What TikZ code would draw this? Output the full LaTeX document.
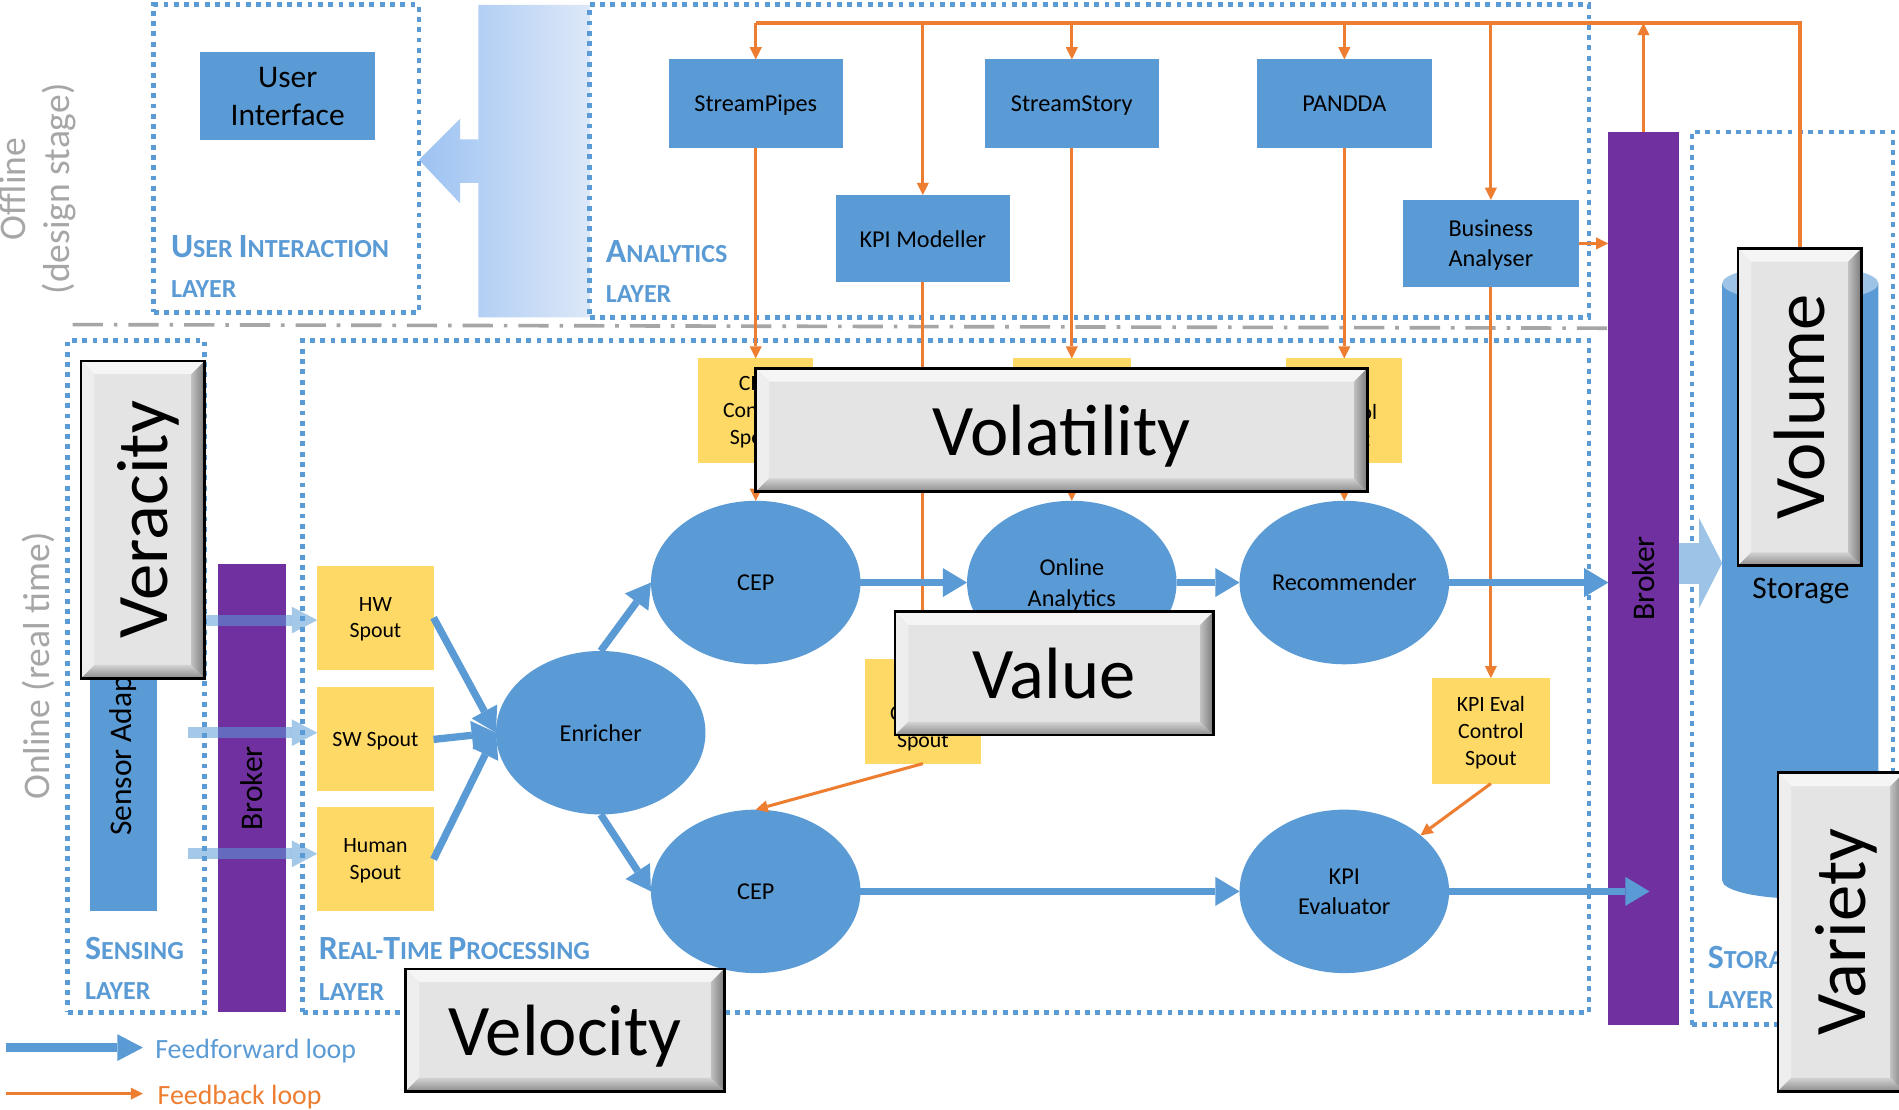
\documentclass[tikz,border=0pt]{standalone}
\usepackage{fontspec}
\setmainfont{Carlito}
\usepackage{graphicx}
\usetikzlibrary{arrows.meta,shapes.geometric,calc}
\pgfdeclarelayer{bg}
\pgfdeclarelayer{fg}
\pgfsetlayers{bg,main,fg}
\definecolor{myblue}{HTML}{5B9BD5}
\definecolor{mypurple}{HTML}{7030A0}
\definecolor{myyellow}{HTML}{FFD966}
\definecolor{myorange}{HTML}{ED7D31}
\definecolor{lightblue}{HTML}{9DC3E6}
\definecolor{mygray}{HTML}{A6A6A6}
\definecolor{bvface}{HTML}{E4E4E4}
\definecolor{bvtop}{HTML}{F5F5F5}
\definecolor{bvleft}{HTML}{EEEEEE}
\definecolor{bvbotA}{HTML}{D2D2D2}
\definecolor{bvbotB}{HTML}{8C8C8C}
\definecolor{bvrightA}{HTML}{C0C0C0}
\definecolor{bvrightB}{HTML}{7A7A7A}
\definecolor{gradL}{HTML}{9CC2F2}
\definecolor{gradR}{HTML}{DDE8F8}
\newcommand{\myfs}[1]{\fontsize{#1}{#1}\selectfont}
\newcommand{\capsA}[2]{{\myfs{28}#1}{\myfs{21.5}#2}}
\newcommand{\nodep}[1]{\raisebox{0pt}[\height][0pt]{#1}}
\begin{document}
\begin{tikzpicture}[x=1pt,y=-1pt,
  dotbox/.style={draw=myblue, line width=4pt, dash pattern=on 4pt off 4.5pt, inner sep=0pt, outer sep=0pt},
  abox/.style={fill=myblue, inner sep=0pt, outer sep=0pt, minimum width=144pt, minimum height=73pt, align=center, font=\fontsize{20}{25}\selectfont, text=black, text depth=0pt},
  spout/.style={fill=myyellow, inner sep=0pt, outer sep=0pt, minimum width=96pt, minimum height=86pt, align=center, font=\fontsize{18}{22}\selectfont, text=black, text depth=0pt},
  proc/.style={ellipse, fill=myblue, inner sep=0pt, outer sep=0pt, minimum width=173pt, minimum height=135pt, align=center, font=\fontsize{20}{25}\selectfont, text=black, text depth=0pt},
  brokerbox/.style={fill=mypurple, inner sep=0pt, outer sep=0pt, font=\myfs{26}, text=black},
  layerlbl/.style={anchor=base west, text=myblue, font=\bfseries\myfs{21.5}, inner sep=0pt},
  ff/.style={draw=myblue, line width=6pt, -{Triangle[length=20pt,width=24pt,line width=0pt]}},
  fb/.style={draw=myorange, line width=2.5pt},
  fba/.style={fb, -{Triangle[length=10pt,width=10pt,line width=0pt]}},
  sens/.style={draw=myblue, opacity=0.55, line width=9pt, -{Triangle[length=21pt,width=22pt,line width=0pt]}},
  bevelbox/.style={draw=black, line width=2.2pt, fill=bvface, inner sep=0pt, outer sep=0pt, text=black, font=\myfs{60}, text depth=0pt,
    path picture={
      \coordinate (bvNW) at (path picture bounding box.north west);
      \coordinate (bvNE) at (path picture bounding box.north east);
      \coordinate (bvSW) at (path picture bounding box.south west);
      \coordinate (bvSE) at (path picture bounding box.south east);
      \fill[bvtop] (bvNW) -- (bvNE) -- ([shift={(-11pt,-11pt)}]bvNE) -- ([shift={(11pt,-11pt)}]bvNW) -- cycle;
      \fill[bvleft] (bvNW) -- ([shift={(11pt,-11pt)}]bvNW) -- ([shift={(11pt,11pt)}]bvSW) -- (bvSW) -- cycle;
      \shade[top color=bvbotA, bottom color=bvbotB] (bvSW) -- ([shift={(11pt,11pt)}]bvSW) -- ([shift={(-11pt,11pt)}]bvSE) -- (bvSE) -- cycle;
      \shade[left color=bvrightA, right color=bvrightB] (bvSE) -- ([shift={(-11pt,11pt)}]bvSE) -- ([shift={(-11pt,-11pt)}]bvNE) -- (bvNE) -- cycle;
    }}
]
\useasboundingbox (0,0) rectangle (1568,916);

% ---------------- background layer ----------------
\begin{pgfonlayer}{bg}
\fill[white] (0,0) rectangle (1568,916);
\shade[left color=gradL, right color=gradR] (487,4) -- (395,4) -- (395,115) -- (380,115) -- (380,98) -- (346,132) -- (380,168) -- (380,151) -- (395,151) -- (395,262) -- (487,262) -- cycle;
\node[dotbox, minimum width=219pt, minimum height=254pt] (uil) at (236.5,131) {};
\node[dotbox, minimum width=825pt, minimum height=258pt] (anl) at (899.5,133) {};
\node[dotbox, minimum width=113pt, minimum height=555pt] (sensl) at (112.5,558.5) {};
\node[dotbox, minimum width=1062pt, minimum height=555pt] (rtl) at (781,558.5) {};
\node[dotbox, minimum width=166pt, minimum height=737pt] (storl) at (1480,477.5) {};
\coordinate (dl1) at (60,268);
\coordinate (dl2) at (1330,271);
\draw[draw=mygray, line width=3pt, dash pattern=on 25pt off 9pt on 3pt off 9pt] (dl1) -- (dl2);
\node[layerlbl] (uil1) at (141,213) {\capsA{U}{SER} \capsA{I}{NTERACTION}};
\node[layerlbl] (uil2) at (141,246) {LAYER};
\node[layerlbl] (anl1) at (500,217) {\capsA{A}{NALYTICS}};
\node[layerlbl] (anl2) at (500,250) {LAYER};
\node[layerlbl] (sen1) at (70,792) {\capsA{S}{ENSING}};
\node[layerlbl] (sen2) at (70,825) {LAYER};
\node[layerlbl] (rt1) at (263,792) {\capsA{R}{EAL}-\capsA{T}{IME} \capsA{P}{ROCESSING}};
\node[layerlbl] (rt2) at (263,826) {LAYER};
\node[layerlbl] (st1) at (1410,800) {\capsA{S}{TORAGE}};
\node[layerlbl] (st2) at (1410,833) {LAYER};
\node[rotate=90, align=center, text=mygray, font=\fontsize{31}{36}\selectfont] (offl) at (31,156) {Offline\\(design stage)};
\node[rotate=90, text=mygray, font=\myfs{31}] (onl) at (32,550) {Online (real time)};
\end{pgfonlayer}

% ---------------- foreground: the V boxes ----------------
\begin{pgfonlayer}{fg}
\node[bevelbox, minimum width=505pt, minimum height=102pt] (volat) at (876.5,355) {Volatility};
\node[bevelbox, minimum width=263pt, minimum height=102pt] (value) at (870.5,556) {Value};
\node[bevelbox, minimum width=263pt, minimum height=101pt] (veloc) at (466.5,850.5) {Velocity};
\node[bevelbox, minimum width=102pt, minimum height=262pt] (verac) at (118,429) {\rotatebox{90}{\nodep{Veracity}}};
\node[bevelbox, minimum width=102pt, minimum height=262pt] (vol) at (1486,336) {\rotatebox{90}{\nodep{Volume}}};
\node[bevelbox, minimum width=104pt, minimum height=263pt] (variety) at (1520,769.5) {\rotatebox{90}{\nodep{Variety}}};
\end{pgfonlayer}

% ---------------- main nodes ----------------
\node[abox, font=\fontsize{26}{32}\selectfont, minimum width=145pt] (ui) at (237.5,79.5) {User\\Interface};
\node[abox] (sp) at (624,85.5) {StreamPipes};
\node[abox] (ss) at (885,85.5) {StreamStory};
\node[abox] (pd) at (1110,85.5) {PANDDA};
\node[abox, minimum height=72pt] (kpim) at (762,197) {KPI Modeller};
\node[abox, minimum width=145pt, minimum height=72pt] (ba) at (1231,201) {Business\\Analyser};

\node[fill=myblue, inner sep=0pt, outer sep=0pt, minimum width=56pt, minimum height=286pt, font=\myfs{26}] (sensor) at (102,609) {\rotatebox{90}{Sensor Adapter}};
\node[brokerbox, minimum width=56pt, minimum height=370pt] (lbroker) at (208,651) {\rotatebox{90}{Broker}};
\node[brokerbox, minimum width=58pt, minimum height=737pt] (rbroker) at (1357,477.5) {\rotatebox{90}{Broker}};

\node[spout] (hw) at (310,510) {HW\\Spout};
\node[spout] (sw) at (310,610.5) {SW Spout};
\node[spout] (hu) at (310,709.5) {Human\\Spout};
\node[spout, minimum width=95pt] (cesp) at (624,339) {CEP\\Control\\Spout};
\node[spout, minimum width=97pt] (ossp) at (885,339) {};
\node[spout] (rsp) at (1110,339) {\strut\\Control\\Spout};
\node[spout] (lsp) at (762,587.5) {\strut\\Control\\Spout};
\node[spout, minimum width=97pt, minimum height=87pt] (ksp) at (1231,603.5) {KPI Eval\\Control\\Spout};

\node[proc] (enr) at (496,605) {Enricher};
\node[proc] (cep1) at (624,481) {CEP};
\node[proc] (oa) at (885,481) {Online\\Analytics};
\node[proc] (rec) at (1110,481) {Recommender};
\node[proc] (cep2) at (624,736) {CEP};
\node[proc] (kpie) at (1110,736) {KPI\\Evaluator};

% storage cylinder
\fill[myblue] (1422,234) -- (1422,727) arc[start angle=180, end angle=360, x radius=64.5pt, y radius=15pt] -- (1551,234) -- cycle;
\fill[lightblue] (1486.5,234) ellipse[x radius=64.5pt, y radius=15pt];
\node[inner sep=0pt, minimum width=129pt, minimum height=523pt] (storage) at (1486.5,480) {};
\node[font=\myfs{26}, text=black] (storagetxt) at (1487,488) {Storage};

% ---------------- feedback (orange) ----------------
\coordinate (top) at (0,19);
\draw[fb, line width=3.5pt] (vol.north) -- (vol.north |- top) -- (sp.north |- top);
\draw[fba] (sp.north |- top) -- (sp.north);
\draw[fba] (kpim.north |- top) -- (kpim.north);
\draw[fba] (ss.north |- top) -- (ss.north);
\draw[fba] (pd.north |- top) -- (pd.north);
\draw[fba] (ba.north |- top) -- (ba.north);
\draw[fba] (rbroker.north) -- (rbroker.north |- top);
\draw[fba] (ba.east) -- (ba.east -| rbroker.west);
\draw[fba] (sp.south) -- (cesp.north);
\draw[fba] (cesp.south) -- (cep1.north);
\draw[fba] (ss.south) -- (ossp.north);
\draw[fba] (ossp.south) -- (oa.north);
\draw[fba] (pd.south) -- (rsp.north);
\draw[fba] (rsp.south) -- (rec.north);
\draw[fba] (kpim.south) -- (lsp.north);
\draw[fba] (lsp.south) -- (cep2.north);
\draw[fba] (ba.south) -- (ksp.north);
\draw[fba] (ksp.south) -- (kpie);

% ---------------- feedforward (blue) ----------------
\coordinate (s1) at (155,512);
\coordinate (s2) at (155,605);
\coordinate (s3) at (155,705);
\draw[sens] (s1) -- (s1 -| hw.west);
\draw[sens] (s2) -- (s2 -| sw.west);
\draw[sens] (s3) -- (s3 -| hu.west);
\draw[ff] (hw.east) -- (enr.west);
\draw[ff] (sw.east) -- (enr.west);
\draw[ff] (hu.east) -- (enr.west);
\draw[ff] (enr.north) -- (cep1.west);
\draw[ff] (enr.south) -- (cep2.west);
\draw[ff] (cep1.east) -- (oa.west);
\draw[ff] (oa.east) -- (rec.west);
\draw[ff] (rec.east) -- (rec.east -| rbroker.west);
\draw[ff] (cep2.east) -- (kpie.west);
\coordinate (bin) at (1362,736);
\draw[ff] (kpie.east) -- (bin);
\coordinate (st1) at (1386,465);
\coordinate (st2) at (1422,465);
\draw[draw=lightblue, line width=34pt, -{Triangle[length=19pt,width=74pt,line width=0pt]}] (st1) -- (st2);

% ---------------- legend ----------------
\coordinate (lgA1) at (5,865);
\coordinate (lgA2) at (118,865);
\coordinate (lgB1) at (5,903);
\coordinate (lgB2) at (118,903);
\draw[draw=myblue, line width=7.5pt, -{Triangle[length=21pt,width=22pt,line width=0pt]}] (lgA1) -- (lgA2);
\node[anchor=base west, text=myblue, font=\myfs{23}, inner sep=0pt] (lgAt) at (128,874) {Feedforward loop};
\draw[fba, line width=3pt] (lgB1) -- (lgB2);
\node[anchor=base west, text=myorange, font=\myfs{23}, inner sep=0pt] (lgBt) at (130,912) {Feedback loop};
\end{tikzpicture}
\end{document}
